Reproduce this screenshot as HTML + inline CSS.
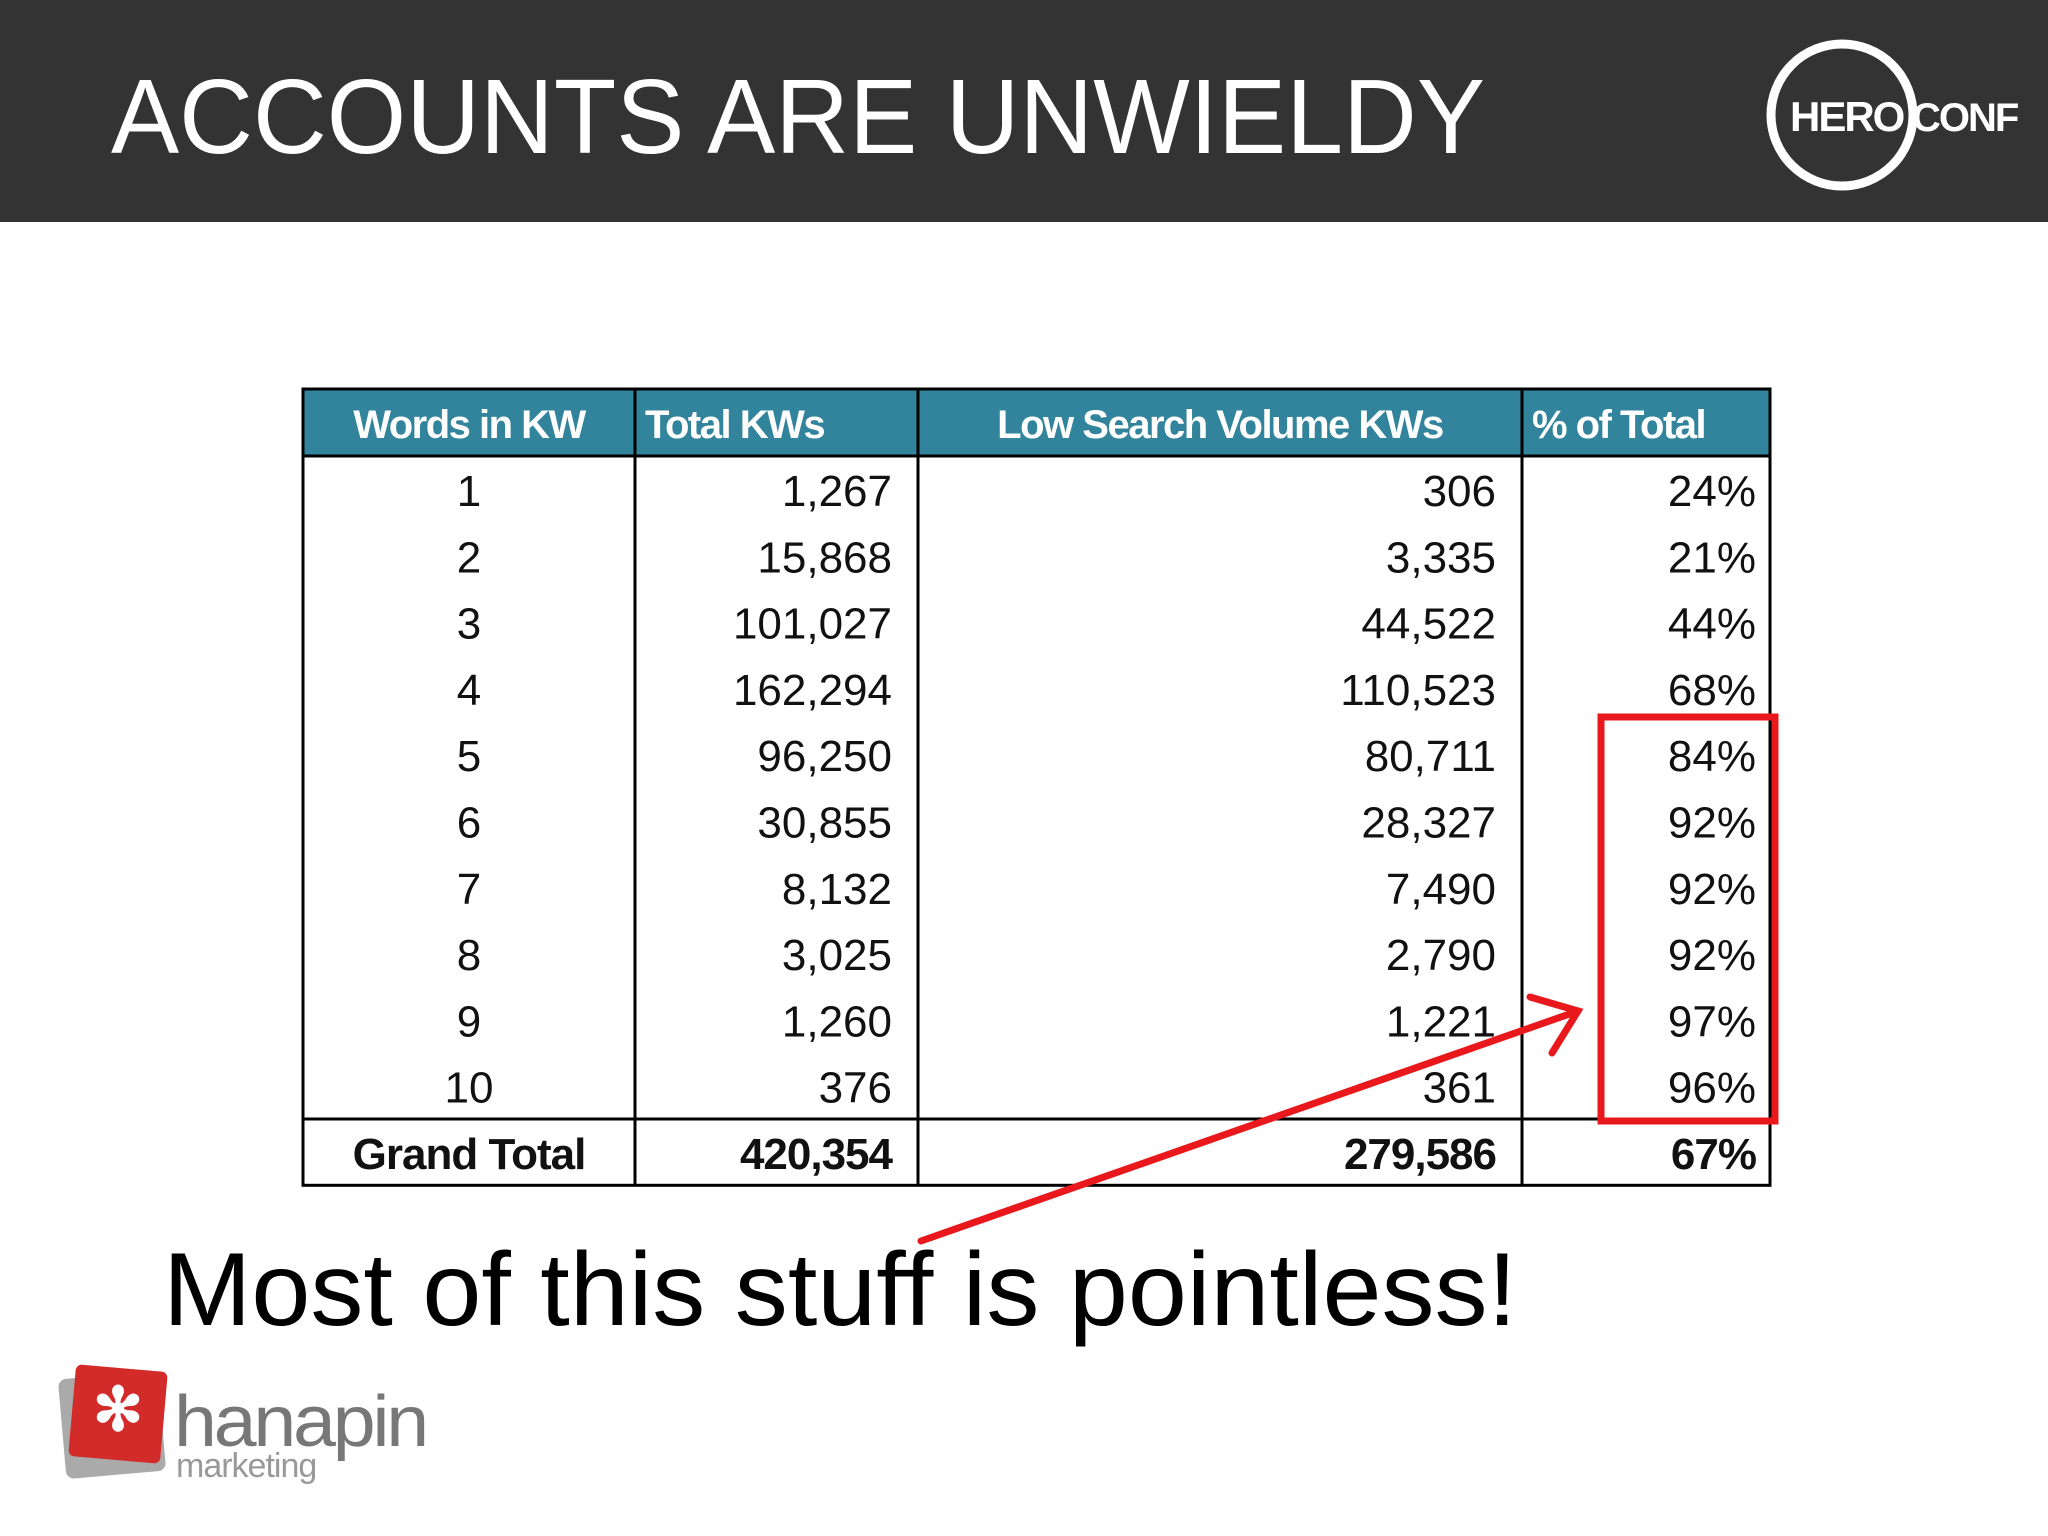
<!DOCTYPE html>
<html><head><meta charset="utf-8"><style>
html,body{margin:0;padding:0;width:2048px;height:1536px;background:#fff;overflow:hidden}
svg{display:block}
</style></head><body>
<svg width="2048" height="1536" viewBox="0 0 2048 1536">
<rect x="0" y="0" width="2048" height="222" fill="#333333"/>
<text x="111" y="153" font-family="'Liberation Sans',sans-serif" font-size="106" fill="#fff" textLength="1374" lengthAdjust="spacingAndGlyphs">ACCOUNTS ARE UNWIELDY</text>
<g>
<circle cx="1842" cy="115" r="71" fill="none" stroke="#fff" stroke-width="9"/>
<text x="1790" y="131" font-family="'Liberation Sans',sans-serif" font-weight="bold" font-size="42" fill="#fff" letter-spacing="-2">HERO</text>
<text x="1912" y="131" font-family="'Liberation Sans',sans-serif" font-weight="bold" font-size="40" fill="#fff" letter-spacing="-2">CONF</text>
</g>
<g id="table"></g>
<g>
<rect x="1601" y="717" width="174" height="404" fill="none" stroke="#e8181c" stroke-width="7"/>
</g>
<g stroke="#e8181c" stroke-width="7" fill="none" stroke-linecap="round">
<line x1="921" y1="1241" x2="1578" y2="1011"/>
<polyline points="1530,997 1578,1011 1552,1053"/>
</g>
<text x="163" y="1325" font-family="'Liberation Sans',sans-serif" font-size="104" fill="#000" textLength="1354" lengthAdjust="spacingAndGlyphs">Most of this stuff is pointless!</text>
<g>
<rect x="62" y="1375" width="100" height="100" rx="8" fill="#aaa" transform="rotate(-5 112 1425)"/>
<rect x="72" y="1368" width="92" height="92" rx="6" fill="#d32a2a" transform="rotate(5 118 1414)"/>
<text x="118" y="1430" text-anchor="middle" font-family="'Liberation Sans',sans-serif" font-weight="bold" font-size="60" fill="#fff">✻</text>
<text x="174" y="1446" font-family="'Liberation Sans',sans-serif" font-size="72" fill="#777" letter-spacing="-3" textLength="252" lengthAdjust="spacingAndGlyphs">hanapin</text>
<text x="176" y="1477" font-family="'Liberation Sans',sans-serif" font-size="34" fill="#999" letter-spacing="-1">marketing</text>
</g>
</svg>
<script>
const headers=["Words in KW","Total KWs","Low Search Volume KWs","% of Total"];
const words=["1","2","3","4","5","6","7","8","9","10","Grand Total"];
const totals=["1,267","15,868","101,027","162,294","96,250","30,855","8,132","3,025","1,260","376","420,354"];
const lows=["306","3,335","44,522","110,523","80,711","28,327","7,490","2,790","1,221","361","279,586"];
const pcts=["24%","21%","44%","68%","84%","92%","92%","92%","97%","96%","67%"];
const NS="http://www.w3.org/2000/svg";
const g=document.getElementById('table');
const cols=[303,635,918,1522,1770];
const top0=389,hh=67,rh=66.3;
const bottom=top0+hh+rh*words.length;
function el(t,a,txt){const e=document.createElementNS(NS,t);for(const k in a)e.setAttribute(k,a[k]);if(txt!=null)e.textContent=txt;g.appendChild(e);return e;}
const hb=el('rect',{x:cols[0],y:top0,width:cols[4]-cols[0],height:hh,fill:'#31849b'});


headers.forEach((h,i)=>{
  const x=i===0?(cols[0]+cols[1])/2:(i===2?(cols[2]+cols[3])/2:cols[i]+10);
  const t=el('text',{x:x,y:top0+49,'text-anchor':(i===0||i===2)?'middle':'start','font-family':"'Liberation Sans',sans-serif",'font-weight':'bold','font-size':40,fill:'#fff','letter-spacing':-1.5},h);
  
  
});
words.forEach((w,r)=>{
  const y=top0+hh+rh*r+50;
  const bold=r===words.length-1;
  const f={'font-family':"'Liberation Sans',sans-serif",'font-size':44,fill:'#111','font-weight':bold?'bold':'normal','letter-spacing':bold?-1:0};
  const vals=[w,totals[r],lows[r],pcts[r]];
  vals.forEach((v,i)=>{
    const a=Object.assign({},f);
    if(i===0){a.x=(cols[0]+cols[1])/2;a['text-anchor']='middle';}
    else{a.x=cols[i+1]-(i===3?14:26);a['text-anchor']='end';}
    a.y=y;
    const t=el('text',a,v);
    
    
  });
});
el('rect',{x:cols[0],y:top0,width:cols[4]-cols[0],height:bottom-top0,fill:'none',stroke:'#000','stroke-width':3});
el('line',{x1:cols[0],y1:top0+hh,x2:cols[4],y2:top0+hh,stroke:'#000','stroke-width':3});
const gy=top0+hh+rh*(words.length-1);
el('line',{x1:cols[0],y1:gy,x2:cols[4],y2:gy,stroke:'#000','stroke-width':3});
for(let i=1;i<4;i++)el('line',{x1:cols[i],y1:top0,x2:cols[i],y2:bottom,stroke:'#000','stroke-width':3});
</script>
</body></html>
